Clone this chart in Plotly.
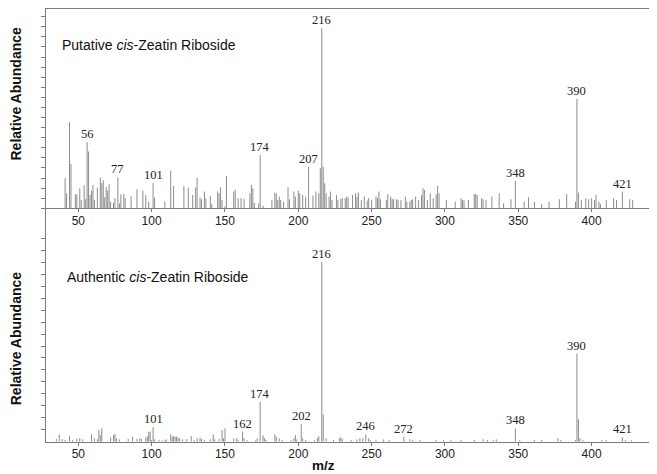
import plotly.graph_objects as go

# Putative cis-Zeatin Riboside (upper spectrum), % of base peak m/z 216
top_mz = [41, 42, 44, 45, 48, 49, 51, 52, 54, 55, 56, 57, 58, 59, 60, 61, 63, 65, 66, 67,
          68, 69, 70, 71, 72, 74, 75, 77, 78, 79, 81, 82, 86, 90, 94, 96, 98, 101, 102, 109,
          113, 115, 122, 125, 128, 130, 131, 133, 134, 136, 137, 140, 141, 145, 146, 147, 148, 150, 151, 156,
          157, 159, 161, 163, 167, 168, 169, 170, 173, 174, 176, 182, 184, 185, 186, 187, 188, 190, 193, 194,
          197, 198, 200, 201, 203, 205, 207, 210, 212, 214, 215, 216, 217, 218, 219, 221, 222, 223, 226, 227,
          229, 230, 232, 233, 234, 237, 239, 240, 241, 243, 245, 247, 248, 250, 253, 254, 255, 256, 260, 261,
          263, 264, 265, 267, 268, 270, 273, 274, 276, 277, 278, 280, 282, 284, 285, 286, 288, 290, 292, 294,
          295, 296, 301, 307, 311, 312, 313, 316, 320, 321, 322, 325, 326, 328, 332, 337, 340, 345, 348, 354,
          357, 361, 366, 371, 378, 383, 389, 390, 391, 393, 396, 398, 400, 402, 403, 405, 406, 410, 415, 417,
          421, 426, 428]
top_int = [16.7, 8.3, 47.8, 24.6, 7.8, 7.8, 11.0, 4.6, 12.8, 5.0, 36.7, 31.5, 7.4, 9.8, 13.0, 4.6, 11.5, 17.0, 13.9, 15.6,
           6.1, 11.7, 9.8, 13.3, 3.7, 3.1, 5.6, 17.2, 2.8, 7.8, 8.0, 5.6, 6.7, 10.6, 9.8, 7.4, 3.7, 14.0, 5.9, 3.7,
           20.9, 12.4, 12.4, 11.5, 7.4, 11.5, 17.0, 5.9, 5.0, 9.3, 5.6, 7.0, 2.4, 9.3, 8.3, 11.7, 4.6, 1.0, 18.0, 9.3,
           10.2, 5.6, 5.6, 5.2, 8.3, 13.0, 11.0, 3.1, 2.8, 29.6, 1.5, 4.6, 8.7, 8.3, 4.6, 6.5, 4.6, 3.7, 11.7, 5.0,
           9.3, 6.5, 9.8, 8.3, 7.4, 6.5, 23.0, 7.0, 9.3, 8.3, 22.2, 100.0, 23.0, 13.9, 8.3, 6.5, 9.3, 4.6, 7.4, 4.6,
           5.2, 5.6, 5.6, 6.5, 5.9, 7.4, 8.3, 6.5, 8.7, 4.6, 6.5, 4.3, 5.6, 4.6, 6.5, 5.6, 9.3, 5.0, 4.6, 7.8,
           6.5, 5.2, 5.0, 5.0, 4.6, 4.6, 6.5, 3.7, 3.7, 4.6, 5.0, 6.5, 4.6, 7.4, 11.1, 10.2, 4.6, 8.3, 5.6, 7.8,
           12.4, 8.3, 4.6, 3.7, 5.6, 4.6, 4.3, 4.6, 7.8, 7.8, 7.4, 5.6, 5.0, 4.6, 6.5, 8.3, 2.8, 5.0, 15.2, 3.7,
           6.1, 3.7, 2.4, 3.7, 5.0, 7.8, 3.7, 60.7, 8.7, 4.6, 5.6, 5.0, 5.6, 4.6, 7.4, 3.7, 2.4, 4.6, 5.6, 4.6,
           9.3, 5.0, 4.6]
top_labels = [56, 77, 101, 174, 207, 216, 348, 390, 421]

# Authentic cis-Zeatin Riboside (lower spectrum)
bot_mz = [35, 37, 39, 41, 44, 46, 49, 51, 53, 59, 61, 63, 64, 65, 66, 72, 74, 75, 76, 78,
          84, 87, 90, 92, 93, 96, 97, 98, 99, 100, 101, 102, 105, 107, 109, 110, 113, 114, 115, 116,
          117, 118, 119, 121, 124, 127, 129, 131, 133, 134, 136, 140, 142, 143, 146, 148, 149, 150, 156, 158,
          159, 162, 163, 165, 171, 172, 174, 176, 177, 178, 184, 185, 187, 189, 195, 197, 198, 199, 202, 203,
          205, 211, 213, 214, 216, 217, 219, 224, 228, 229, 230, 236, 240, 242, 244, 246, 248, 249, 253, 258,
          262, 272, 276, 278, 283, 294, 299, 304, 311, 320, 326, 329, 333, 335, 348, 351, 361, 366, 377, 379,
          389, 390, 391, 392, 394, 407, 410, 421, 423, 427]
bot_int = [1.5, 4.1, 1.5, 1.0, 3.3, 1.0, 1.5, 1.9, 1.3, 4.1, 1.9, 1.3, 6.5, 3.7, 7.4, 2.4, 3.7, 4.3, 1.9, 1.3,
           1.5, 2.8, 1.5, 1.9, 1.5, 2.2, 3.1, 5.6, 5.6, 1.0, 8.0, 1.3, 1.0, 0.8, 1.0, 1.3, 4.1, 2.8, 3.1, 2.8,
           2.8, 2.2, 1.9, 1.3, 1.5, 3.1, 1.0, 1.9, 2.2, 1.5, 1.0, 1.3, 4.1, 1.3, 1.5, 6.5, 1.9, 7.4, 1.9, 1.9,
           0.9, 5.6, 1.9, 0.9, 0.9, 1.9, 22.2, 3.5, 1.9, 0.9, 4.1, 2.8, 1.9, 0.9, 0.9, 1.9, 3.7, 1.3, 9.7, 1.9,
           0.9, 0.9, 1.9, 3.1, 100.0, 15.2, 1.9, 0.9, 1.9, 2.4, 1.5, 0.9, 1.3, 1.9, 1.9, 4.1, 1.9, 0.9, 0.9, 1.3,
           0.9, 2.8, 1.3, 0.9, 0.9, 0.9, 0.9, 0.9, 0.9, 0.9, 1.3, 0.9, 0.9, 1.3, 7.4, 0.9, 0.9, 0.9, 1.9, 0.9,
           0.9, 49.0, 12.4, 1.9, 0.9, 0.9, 0.9, 2.4, 0.9, 0.9]
bot_labels = [101, 162, 174, 202, 216, 246, 272, 348, 390, 421]

x_ticks = [50, 100, 150, 200, 250, 300, 350, 400]

LINE = "#8c8c8c"
AXIS = "#7a7a7a"
SANS = "Liberation Sans, Arial, Helvetica, sans-serif"
SERIF = "Liberation Serif, Times New Roman, serif"

# the page body keeps its default 8px margin, so the figure is sized to the rest of the window
W, H = 649, 466


def sticks(mz, inten):
    xs, ys = [], []
    for m, h in zip(mz, inten):
        xs += [m, m, None]
        ys += [0, h, None]
    return xs, ys


fig = go.Figure()
tx, ty = sticks(top_mz, top_int)
bx, by = sticks(bot_mz, bot_int)
fig.add_trace(go.Scatter(x=tx, y=ty, mode="lines", line=dict(color=LINE, width=1),
                         xaxis="x2", yaxis="y2", showlegend=False, hoverinfo="skip"))
fig.add_trace(go.Scatter(x=bx, y=by, mode="lines", line=dict(color=LINE, width=1),
                         xaxis="x", yaxis="y", showlegend=False, hoverinfo="skip"))

annotations = []
for lab in top_labels:
    annotations.append(dict(x=lab, y=top_int[top_mz.index(lab)], xref="x2", yref="y2",
                            text=str(lab), showarrow=False, yanchor="bottom", yshift=-1,
                            font=dict(family=SERIF, size=12.5, color="#222")))
for lab in bot_labels:
    annotations.append(dict(x=lab, y=bot_int[bot_mz.index(lab)], xref="x", yref="y",
                            text=str(lab), showarrow=False, yanchor="bottom", yshift=-1,
                            font=dict(family=SERIF, size=12.5, color="#222")))

annotations += [
    dict(x=0.0801, y=0.921, xref="paper", yref="paper", xanchor="left", yanchor="middle",
         text="Putative <i>cis</i>-Zeatin Riboside", showarrow=False,
         font=dict(family=SANS, size=14, color="#111")),
    dict(x=0.0874, y=0.422, xref="paper", yref="paper", xanchor="left", yanchor="middle",
         text="Authentic <i>cis</i>-Zeatin Riboside", showarrow=False,
         font=dict(family=SANS, size=14, color="#111")),
    dict(x=0.0116, y=0.8155, xref="paper", yref="paper", textangle=-90,
         xanchor="center", yanchor="middle",
         text="<b>Relative Abundance</b>", showarrow=False,
         font=dict(family=SANS, size=14, color="#111")),
    dict(x=0.0116, y=0.2903, xref="paper", yref="paper", textangle=-90,
         xanchor="center", yanchor="middle",
         text="<b>Relative Abundance</b>", showarrow=False,
         font=dict(family=SANS, size=14, color="#111")),
    dict(x=0.4854, y=0.0175, xref="paper", yref="paper",
         xanchor="center", yanchor="middle",
         text="<b>m/z</b>", showarrow=False,
         font=dict(family=SANS, size=13.5, color="#111")),
]

x_common = dict(range=[28.3, 441.4], domain=[0.0593, 0.9928], tickvals=x_ticks,
                ticks="outside", ticklen=3, tickcolor=AXIS, showline=True, linecolor=AXIS,
                linewidth=1, showgrid=False, zeroline=False, automargin=False,
                ticklabelstandoff=-2,
                tickfont=dict(family=SANS, size=12, color="#222"))
y_common = dict(ticks="outside", ticklen=4, tickcolor=AXIS, showline=True, linecolor=AXIS,
                linewidth=1, showgrid=False, zeroline=False, showticklabels=False, mirror=True,
                automargin=False)

fig.update_layout(
    width=W, height=H,
    margin=dict(l=0, r=0, t=0, b=0, autoexpand=False),
    paper_bgcolor="white", plot_bgcolor="white",
    showlegend=False,
    xaxis=dict(anchor="y", **x_common),
    xaxis2=dict(anchor="y2", mirror=True, **x_common),
    yaxis=dict(anchor="x", domain=[0.0693, 0.5702], range=[0, 129.7],
               tickvals=[i * 6.645 for i in range(1, 18)], **y_common),
    yaxis2=dict(anchor="x2", domain=[0.5702, 0.9979], range=[0, 110.7], dtick=5.6, **y_common),
    annotations=annotations,
)

fig.write_html("out.html")
